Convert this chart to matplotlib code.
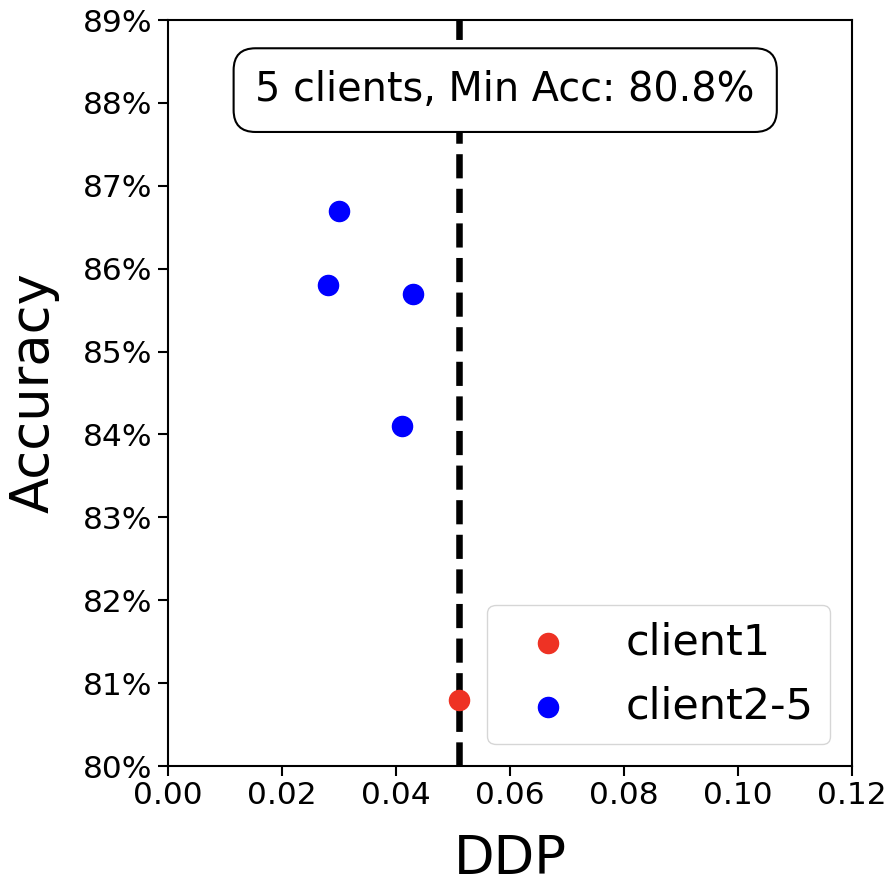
import matplotlib
matplotlib.use("Agg")
import matplotlib.pyplot as plt
from matplotlib.ticker import FuncFormatter

client1_ddp = [0.051]
client1_acc = [80.8]
others_ddp = [0.030, 0.028, 0.043, 0.041]
others_acc = [86.7, 85.8, 85.7, 84.1]
threshold = 0.051
label_text = "5 clients, Min Acc: 80.8%"

fig = plt.figure(figsize=(8.94, 8.86), dpi=100)
ax = fig.add_axes([168/894, 1-766/886, (852-168)/894, (766-20)/886])

ax.scatter(client1_ddp, client1_acc, s=210, color='#EE3224', label='client1', zorder=3)
ax.scatter(others_ddp, others_acc, s=210, color='blue', label='client2-5', zorder=3)
ax.axvline(threshold, color='black', linestyle='--', linewidth=4.7, zorder=2)

ax.set_xlim(0, 0.12)
ax.set_ylim(80, 89)
ax.set_xticks([0, 0.02, 0.04, 0.06, 0.08, 0.10, 0.12])
ax.set_yticks(range(80, 90))
ax.yaxis.set_major_formatter(FuncFormatter(lambda v, p: f"{v:.0f}%"))
ax.xaxis.set_major_formatter(FuncFormatter(lambda v, p: f"{v:.2f}"))
ax.tick_params(labelsize=22.5, length=7.5, width=1.5)
for sp in ax.spines.values():
    sp.set_linewidth(1.5)
ax.set_xlabel("DDP", fontsize=38, labelpad=16)
ax.set_ylabel("Accuracy", fontsize=38, labelpad=17)

ax.text(0.493, 0.906, label_text, transform=ax.transAxes, ha='center', va='center',
        fontsize=28.6, bbox=dict(boxstyle='round,pad=0.55', fc='white', ec='black', lw=1.5))

ax.legend(loc='lower right', fontsize=31)

fig.savefig("out.png", dpi=100)
